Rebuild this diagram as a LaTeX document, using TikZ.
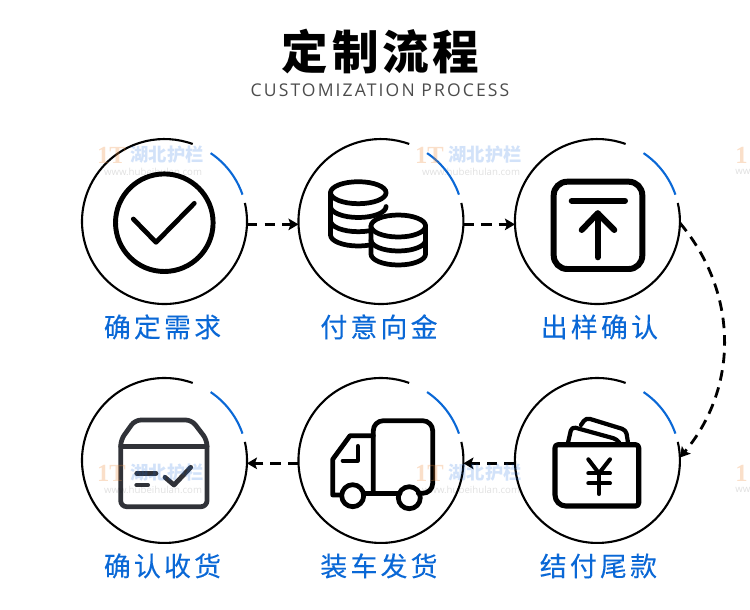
\documentclass[tikz,border=0pt]{standalone}
\usepackage{fontspec}
\setmainfont{Noto Sans CJK SC}
\newfontfamily\latinfont{Open Sans}
\newfontfamily\logofont{Liberation Serif}
\usetikzlibrary{positioning,arrows.meta}
\definecolor{stepBlue}{RGB}{10,104,214}
\definecolor{boxGray}{RGB}{48,50,56}
\definecolor{markBlue}{RGB}{30,110,225}
\definecolor{markOrange}{RGB}{238,140,60}
\begin{document}
\begin{tikzpicture}[x=0.02cm,y=-0.02cm,
  ring/.style={circle,minimum size=3.3cm,inner sep=0pt,outer sep=0pt},
  ringline/.style={line width=1.2pt,black},
  ringblue/.style={line width=1.2pt,stepBlue},
  lbl/.style={font={\fontsize{15.3}{15.3}\selectfont\addfontfeature{LetterSpace=12,FakeBold=0.15}},text=stepBlue,inner sep=0pt,text height=13pt,text depth=2pt},
  link/.style={-{Stealth[length=2mm,width=2.3mm,inset=0.4mm]},line width=1.6pt,dash pattern=on 6pt off 4pt},
  ico/.style={line width=2.7pt,line cap=round,line join=round},
  wmtext/.style={inner sep=0pt,text opacity=.2,text=markBlue,font=\bfseries\fontsize{10.4}{11}\selectfont},
  wmlogo/.style={inner sep=0pt,text opacity=.28,text=markOrange,font=\logofont\bfseries\fontsize{14}{14}\selectfont},
  wmurl/.style={inner sep=0pt,text opacity=.12,text=black,font=\latinfont\fontsize{5.5}{5.5}\selectfont}]
\useasboundingbox (0,0) rectangle (750,609);
% title
\node[font=\bfseries\fontsize{26.5}{26.5}\selectfont\addfontfeature{LetterSpace=8}] (title) at (380.5,52) {定制流程};
\node[font=\latinfont\fontsize{10}{10}\selectfont\addfontfeature{LetterSpace=12},text=black!70] (subtitle) at (380,90) {CUSTOMIZATION PROCESS};
% steps
\node[ring] (need) at (164.5,221.5) {};
\node[ring,right=1.03cm of need] (deposit) {};
\node[ring,right=1.03cm of deposit] (sample) {};
\node[ring,below=1.48cm of sample] (balance) {};
\node[ring,left=1.03cm of balance] (ship) {};
\node[ring,left=1.03cm of ship] (receipt) {};
\foreach \c in {need,deposit,sample,balance,ship,receipt}{
  \draw[ringline] (\c.13) arc[start angle=13,end angle=-290,radius=1.65cm];
  \draw[ringblue] (\c.19) arc[start angle=19,end angle=56,radius=1.65cm];
}
% labels
\node[lbl,below=0.2cm of need,xshift=-0.04cm] (needlbl) {确定需求};
\node[lbl,below=0.2cm of deposit,xshift=-0.04cm] (depositlbl) {付意向金};
\node[lbl,below=0.2cm of sample,xshift=0.04cm] (samplelbl) {出样确认};
\node[lbl,below=0.2cm of balance,xshift=0.02cm] (balancelbl) {结付尾款};
\node[lbl,below=0.2cm of ship,xshift=-0.04cm] (shiplbl) {装车发货};
\node[lbl,below=0.2cm of receipt,xshift=-0.04cm] (receiptlbl) {确认收货};
% connectors
\draw[link] (need.-2) -- (deposit.182);
\draw[link] (deposit.-2) -- (sample.182);
\draw[link] (sample.-1) to[bend left=40] (balance.2);
\draw[link] (balance.182) -- (ship.-2);
\draw[link] (ship.182) -- (receipt.-2);
% check icon
\draw[line width=2.8pt] (164.3,222.7) circle[radius=0.976cm];
\draw[ico] (133.3,219) -- (156,242.3) -- (194.3,203.3);
% coins icon
\draw[ico] (330.5,192.7) -- (330.5,235) arc[start angle=180,end angle=360,x radius=0.556cm,y radius=0.22cm];
\draw[ico] (330.5,206.5) arc[start angle=180,end angle=360,x radius=0.556cm,y radius=0.22cm];
\draw[ico] (330.5,220.7) arc[start angle=180,end angle=360,x radius=0.556cm,y radius=0.22cm];
\draw[ico,fill=white] (358.3,192.7) circle[x radius=0.556cm,y radius=0.22cm];
\draw[ico,fill=white] (371,226) -- (371,254) arc[start angle=180,end angle=360,x radius=0.546cm,y radius=0.22cm] -- (425.6,226) -- cycle;
\draw[ico] (371,240) arc[start angle=180,end angle=360,x radius=0.546cm,y radius=0.22cm];
\draw[ico,fill=white] (398.3,226) circle[x radius=0.546cm,y radius=0.22cm];
% upload icon
\draw[ico,line width=3.4pt,rounded corners=0.27cm] (553.7,181.7) rectangle (642.3,269);
\draw[ico,line width=3.4pt] (571.7,200.7) -- (625,200.7);
\draw[ico,line width=3.4pt] (597.7,213.3) -- (597.7,257.3);
\draw[ico,line width=3.4pt] (581.7,230) -- (597.7,213.3) -- (614.3,230);
% wallet icon
\draw[ico,line width=2.4pt,rounded corners=0.08cm] (568,442.7) -- (571.7,426.7) -- (617.3,439.3) -- (619.3,442.7);
\draw[ico,line width=2.4pt,rounded corners=0.08cm] (581,425) -- (586,417.7) -- (626,430) -- (628,442.7);
\draw[ico,line width=2.9pt,rounded corners=0.06cm] (555,444.7) -- (638.7,444.7) -- (638.7,506) [rounded corners=0.22cm] -- (555,506) [rounded corners=0.06cm] -- cycle;
\draw[ico,line width=2.3pt] (588.3,459.3) -- (599,473.3) -- (610,459.3);
\draw[ico,line width=2.3pt] (588.3,473.3) -- (610,473.3);
\draw[ico,line width=2.3pt] (588.3,483.3) -- (610,483.3);
\draw[ico,line width=2.3pt] (599,473.3) -- (599,494);
% truck icon
\draw[ico,rounded corners=0.2cm] (373.3,493.3) -- (373.3,420.7) -- (432.7,420.7) -- (432.7,493.3) -- (418.3,493.3);
\draw[ico] (363.3,493.3) -- (400,493.3);
\draw[ico] (373.3,435.7) -- (350,435.7) -- (332.7,459.3) -- (332.7,495) -- (340,495);
\draw[ico] (352.7,495.7) circle[radius=0.22cm];
\draw[ico] (409.3,497.7) circle[radius=0.22cm];
\draw[ico,line width=2.3pt] (357.7,446) -- (357.7,460.7) -- (342.7,460.7);
% box icon
\draw[ico,boxGray,rounded corners=0.12cm] (120.7,506.7) -- (207,506.7) -- (207,440) -- (191.7,420) -- (135,420) -- (120.7,440) -- cycle;
\draw[ico,boxGray] (120.7,446.7) -- (207,446.7);
\draw[ico,boxGray] (136.7,473.3) -- (156,473.3);
\draw[ico,boxGray] (136.7,485) -- (147.7,485);
\draw[ico,boxGray] (165,477.3) -- (174,485) -- (190.7,467.3);
% watermarks
\foreach \wx in {0,318}{
  \foreach \wy in {0,318}{
    \node[wmlogo] (logo\wx\wy) at (111.5+\wx,155+\wy) {1T};
    \node[wmtext] (mark\wx\wy) at (167+\wx,155+\wy) {湖北护栏};
    \node[wmurl] (url\wx\wy) at (153+\wx,171.5+\wy) {www.hubeihulan.com};
  }
}
\foreach \wy in {0,318}{
  \node[wmlogo,anchor=west] (logoedge\wy) at (735,155+\wy) {1};
  \node[wmurl,anchor=west] (urledge\wy) at (735,171.5+\wy) {ww};
}
\end{tikzpicture}
\end{document}
